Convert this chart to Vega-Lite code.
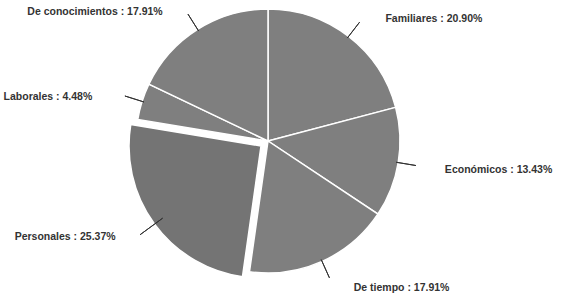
{
  "$schema": "https://vega.github.io/schema/vega-lite/v6.json",
  "width": 536,
  "height": 282,
  "autosize": {"type": "none"},
  "padding": {"left": 0, "top": 0, "right": 25, "bottom": 14},
  "background": "white",
  "config": {"view": {"stroke": null}},
  "data": {
    "values": [
      {"orden": 1, "categoria": "Familiares", "porcentaje": 20.90, "etiqueta": "Familiares : 20.90%"},
      {"orden": 2, "categoria": "Económicos", "porcentaje": 13.43, "etiqueta": "Económicos : 13.43%"},
      {"orden": 3, "categoria": "De tiempo", "porcentaje": 17.91, "etiqueta": "De tiempo : 17.91%"},
      {"orden": 4, "categoria": "Personales", "porcentaje": 25.37, "etiqueta": "Personales : 25.37%"},
      {"orden": 5, "categoria": "Laborales", "porcentaje": 4.48, "etiqueta": "Laborales : 4.48%"},
      {"orden": 6, "categoria": "De conocimientos", "porcentaje": 17.91, "etiqueta": "De conocimientos : 17.91%"}
    ]
  },
  "encoding": {
    "theta": {"field": "porcentaje", "type": "quantitative", "stack": true},
    "order": {"field": "orden", "type": "quantitative", "sort": "ascending"}
  },
  "layer": [
    {
      "mark": {"type": "arc", "radius": 132, "stroke": "white", "strokeWidth": 1.5, "fill": "#7f7f7f"},
      "encoding": {
        "opacity": {"condition": {"test": "datum.categoria === 'Personales'", "value": 0}, "value": 1}
      }
    },
    {
      "mark": {"type": "arc", "radius": 132, "stroke": "white", "strokeWidth": 1.5, "fill": "#747474", "xOffset": -7, "yOffset": 5},
      "encoding": {
        "opacity": {"condition": {"test": "datum.categoria === 'Personales'", "value": 1}, "value": 0}
      }
    },
    {
      "mark": {"type": "arc", "radius": 150, "radius2": 130, "padAngle": 3.14, "filled": false, "stroke": "#333333", "strokeWidth": 1},
      "encoding": {
        "opacity": {"condition": {"test": "datum.categoria === 'Personales'", "value": 0}, "value": 1}
      }
    },
    {
      "mark": {"type": "arc", "radius": 150, "radius2": 122, "padAngle": 3.14, "filled": false, "stroke": "#333333", "strokeWidth": 1, "xOffset": -7, "yOffset": 5},
      "encoding": {
        "opacity": {"condition": {"test": "datum.categoria === 'Personales'", "value": 1}, "value": 0}
      }
    },
    {
      "mark": {"type": "text", "radius": 158, "align": "left", "baseline": "middle", "dx": 21, "dy": 3, "font": "Liberation Sans", "fontWeight": "bold", "fontSize": 10.5, "color": "#333333"},
      "encoding": {
        "text": {"condition": {"test": "indexof(['Familiares','Económicos','De tiempo'], datum.categoria) >= 0", "field": "etiqueta", "type": "nominal"}, "value": ""}
      }
    },
    {
      "mark": {"type": "text", "radius": 158, "align": "right", "baseline": "middle", "dx": -25, "dy": 3, "font": "Liberation Sans", "fontWeight": "bold", "fontSize": 10.5, "color": "#333333"},
      "encoding": {
        "text": {"condition": {"test": "datum.categoria === 'Personales' || datum.categoria === 'Laborales'", "field": "etiqueta", "type": "nominal"}, "value": ""}
      }
    },
    {
      "mark": {"type": "text", "radius": 158, "align": "right", "baseline": "middle", "dx": -21, "dy": 5, "font": "Liberation Sans", "fontWeight": "bold", "fontSize": 10.5, "color": "#333333"},
      "encoding": {
        "text": {"condition": {"test": "datum.categoria === 'De conocimientos'", "field": "etiqueta", "type": "nominal"}, "value": ""}
      }
    }
  ]
}
